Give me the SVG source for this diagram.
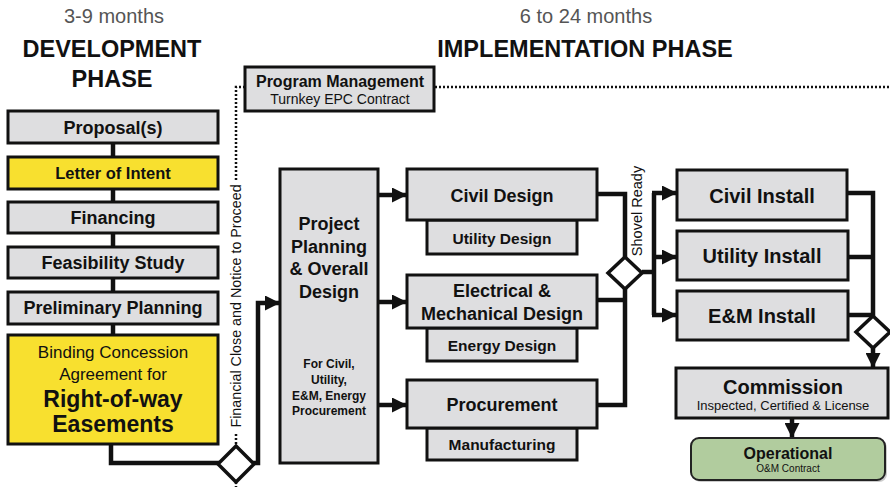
<svg xmlns="http://www.w3.org/2000/svg" width="890" height="487" viewBox="0 0 890 487">
<defs>
<style>
text{font-family:"Liberation Sans",Arial,sans-serif;fill:#111;text-anchor:middle}
.b{font-weight:bold}
.box{fill:#dedee0;stroke:#111;stroke-width:3}
.yel{fill:#f8e02f;stroke:#111;stroke-width:3}
.ln{fill:none;stroke:#111;stroke-width:4.5}
.dot{fill:none;stroke:#111;stroke-width:2.5;stroke-dasharray:2 2}
.dia{fill:#fff;stroke:#111;stroke-width:3.5}
.hdr{font-size:20px;fill:#555}
.ph{font-size:23.5px;font-weight:bold}
</style>
<marker id="arr" markerUnits="userSpaceOnUse" markerWidth="15" markerHeight="15" refX="15" refY="7.5" orient="auto" viewBox="0 0 15 15">
<path d="M0,0 L15,7.5 L0,15 z" fill="#111"/>
</marker>
</defs>
<rect width="890" height="487" fill="#fff"/>

<g id="headers">
<text class="hdr" x="114" y="23">3-9 months</text>
<text class="ph" x="112" y="57">DEVELOPMENT</text>
<text class="ph" x="112" y="87">PHASE</text>
<text class="hdr" x="586" y="23">6 to 24 months</text>
<text class="ph" x="585" y="57">IMPLEMENTATION PHASE</text>
</g>

<g id="connectors">
<line class="ln" x1="113" y1="143" x2="113" y2="157"/>
<line class="ln" x1="113" y1="189" x2="113" y2="202"/>
<line class="ln" x1="113" y1="233" x2="113" y2="247"/>
<line class="ln" x1="113" y1="278" x2="113" y2="292"/>
<line class="ln" x1="113" y1="324" x2="113" y2="335"/>
<polyline class="ln" points="111,444 111,463 219,463"/>
<polyline class="ln" points="253,463 258,463 258,303 280,303" marker-end="url(#arr)"/>
<line class="ln" x1="378" y1="195" x2="407" y2="195" marker-end="url(#arr)"/>
<line class="ln" x1="378" y1="302" x2="407" y2="302" marker-end="url(#arr)"/>
<line class="ln" x1="378" y1="405" x2="407" y2="405" marker-end="url(#arr)"/>
<polyline class="ln" points="597,194 625,194 625,257"/>
<line class="ln" x1="597" y1="300" x2="625" y2="300"/>
<polyline class="ln" points="597,405 625,405 625,288"/>
<polyline class="ln" points="642,272 654,272"/>
<polyline class="ln" points="654,193 654,315"/>
<line class="ln" x1="652" y1="193" x2="677" y2="193" marker-end="url(#arr)"/>
<line class="ln" x1="652" y1="257" x2="677" y2="257" marker-end="url(#arr)"/>
<line class="ln" x1="652" y1="315" x2="677" y2="315" marker-end="url(#arr)"/>
<polyline class="ln" points="848,193 873,193 873,316"/>
<line class="ln" x1="848" y1="257" x2="873" y2="257"/>
<line class="ln" x1="848" y1="315" x2="873" y2="315"/>
<line class="ln" x1="873" y1="348" x2="873" y2="368" marker-end="url(#arr)"/>
<line class="ln" x1="792" y1="418" x2="792" y2="438" marker-end="url(#arr)"/>
<polyline class="dot" points="245,87 236,87 236,180"/>
<line class="dot" x1="236" y1="434" x2="236" y2="446"/>
<line class="dot" x1="236" y1="482" x2="236" y2="487"/>
<line class="dot" x1="435" y1="87" x2="890" y2="87"/>
<polygon class="dia" points="236,446 254,464 236,482 218,464"/>
<polygon class="dia" points="625,257 642,273 625,289 608,273"/>
<polygon class="dia" points="873,316 890,332 873,348 856,332"/>
<text x="0" y="0" font-size="14.3" transform="translate(241,306) rotate(-90)">Financial Close and Notice to Proceed</text>
<text x="0" y="0" font-size="14.5" transform="translate(642,211) rotate(-90)">Shovel Ready</text>
</g>

<g id="proposal"><rect class="box" x="8" y="111" width="210" height="32"/><text class="b" x="113" y="134" font-size="18">Proposal(s)</text></g>
<g id="loi"><rect class="yel" x="8" y="157" width="210" height="32"/><text class="b" x="113" y="179" font-size="16.5">Letter of Intent</text></g>
<g id="financing"><rect class="box" x="8" y="202" width="210" height="31"/><text class="b" x="113" y="224" font-size="18">Financing</text></g>
<g id="feasibility"><rect class="box" x="8" y="247" width="210" height="31"/><text class="b" x="113" y="269" font-size="18">Feasibility Study</text></g>
<g id="preliminary"><rect class="box" x="8" y="292" width="210" height="32"/><text class="b" x="113" y="314" font-size="18">Preliminary Planning</text></g>
<g id="binding"><rect class="yel" x="8" y="335" width="210" height="109"/>
<text x="113" y="358" font-size="17">Binding Concession</text>
<text x="113" y="380" font-size="17">Agreement for</text>
<text class="b" x="113" y="407" font-size="23">Right-of-way</text>
<text class="b" x="113" y="432" font-size="23">Easements</text></g>

<g id="program"><rect class="box" x="245" y="67" width="189" height="44"/>
<text class="b" x="340" y="87" font-size="16">Program Management</text>
<text x="340" y="104" font-size="14">Turnkey EPC Contract</text></g>

<g id="project"><rect class="box" x="280" y="169" width="98" height="294"/>
<text class="b" x="329" y="230" font-size="18">Project</text>
<text class="b" x="329" y="253" font-size="18">Planning</text>
<text class="b" x="329" y="275" font-size="18">&amp; Overall</text>
<text class="b" x="329" y="298" font-size="18">Design</text>
<text class="b" x="329" y="368" font-size="12">For Civil,</text>
<text class="b" x="329" y="384" font-size="12">Utility,</text>
<text class="b" x="329" y="400" font-size="12">E&amp;M, Energy</text>
<text class="b" x="329" y="415" font-size="12">Procurement</text></g>

<g id="utility-design"><rect class="box" x="427" y="220" width="150" height="34"/><text class="b" x="502" y="244" font-size="15.5">Utility Design</text></g>
<g id="civil-design"><rect class="box" x="407" y="169" width="190" height="51"/><text class="b" x="502" y="202" font-size="18">Civil Design</text></g>
<g id="energy-design"><rect class="box" x="427" y="328" width="150" height="33"/><text class="b" x="502" y="351" font-size="15.5">Energy Design</text></g>
<g id="em-design"><rect class="box" x="407" y="275" width="190" height="53"/><text class="b" x="502" y="297" font-size="18">Electrical &amp;</text><text class="b" x="502" y="320" font-size="18">Mechanical Design</text></g>
<g id="manufacturing"><rect class="box" x="427" y="428" width="150" height="32"/><text class="b" x="502" y="450" font-size="15.5">Manufacturing</text></g>
<g id="procurement"><rect class="box" x="407" y="380" width="190" height="48"/><text class="b" x="502" y="411" font-size="18">Procurement</text></g>

<g id="civil-install"><rect class="box" x="677" y="170" width="170" height="50"/><text class="b" x="762" y="203" font-size="20">Civil Install</text></g>
<g id="utility-install"><rect class="box" x="677" y="231" width="171" height="49"/><text class="b" x="762" y="263" font-size="20">Utility Install</text></g>
<g id="em-install"><rect class="box" x="677" y="291" width="171" height="49"/><text class="b" x="762" y="323" font-size="20">E&amp;M Install</text></g>

<g id="commission"><rect class="box" x="676" y="368" width="212" height="50"/>
<text class="b" x="783" y="394" font-size="20">Commission</text>
<text x="783" y="410" font-size="13">Inspected, Certified &amp; License</text></g>

<g id="operational"><rect x="693" y="440" width="194" height="42" rx="8" fill="#999" opacity="0.5"/>
<rect x="691" y="438" width="194" height="42" rx="8" fill="#b1cc9e" stroke="#222" stroke-width="2"/>
<text class="b" x="788" y="459" font-size="16">Operational</text>
<text x="788" y="472" font-size="10">O&amp;M Contract</text></g>
</svg>
